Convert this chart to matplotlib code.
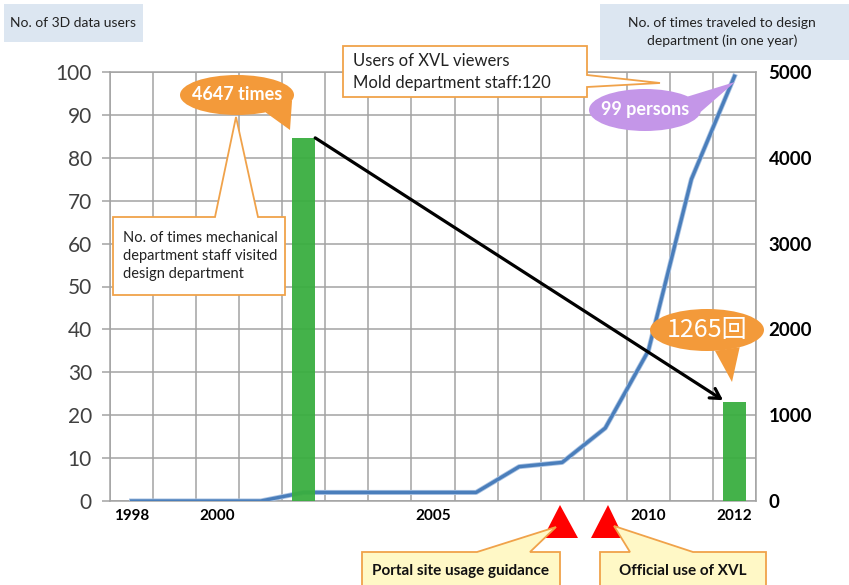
import matplotlib
matplotlib.use("Agg")
import matplotlib.pyplot as plt
from matplotlib.patches import Ellipse, Polygon, Rectangle
import matplotlib.patheffects as pe
import numpy as np

# ---- data ----
years = list(range(1998, 2013))
users_3d = [0, 0, 0, 0, 2, 2, 2, 2, 2, 8, 9, 17, 35, 75, 99]
visit_years = [2002, 2012]
visit_counts = [4647, 1265]
year_ticks = [1998, 2000, 2005, 2010, 2012]
left_ticks = list(range(0, 101, 10))
right_ticks = list(range(0, 5001, 1000))

W, H = 849, 585
plt.rcParams['font.family'] = ['Lato', 'Noto Sans CJK JP', 'DejaVu Sans']
fig = plt.figure(figsize=(W / 100, H / 100), dpi=100)


def fx(px):
    return px / W


def fy(py):
    return 1 - py / H


L, R, T, B = 110, 756, 72, 501
ax = fig.add_axes([fx(L), fy(B), fx(R) - fx(L), fy(T) - fy(B)])
pos = np.array(years) - years[0]
ax.set_xlim(-0.5, len(years) - 0.5)
ax.set_ylim(0, 100)

grid_c = '#a3a3a3'
ax.set_xticks(np.arange(-0.5, len(years), 1), minor=True)
ax.set_yticks(left_ticks)
ax.set_xticks([y - years[0] for y in year_ticks])
ax.set_xticklabels([str(y) for y in year_ticks], fontweight='bold', fontsize=11)
ax.grid(True, which='minor', axis='x', color=grid_c, lw=1.1)
ax.grid(True, which='major', axis='y', color=grid_c, lw=1.1)
ax.tick_params(axis='x', which='both', length=0, pad=6)
ax.tick_params(axis='y', length=6, color=grid_c, width=1.1, labelsize=15,
               labelcolor='#404040', pad=7)
for s in ax.spines.values():
    s.set_color(grid_c)
    s.set_linewidth(1.1)
ax.set_axisbelow(True)

# 3D data users line
ax.plot(pos, users_3d, color='#4a7ebb', lw=2.4, solid_joinstyle='round',
        path_effects=[pe.Stroke(linewidth=3.6, foreground='#a9c2e2'), pe.Normal()],
        zorder=3)

# right-hand axis labels
ax2 = ax.twinx()
ax2.set_ylim(0, 5000)
ax2.set_yticks(right_ticks)
ax2.tick_params(axis='y', length=0, labelsize=13.5, pad=9)
for lab in ax2.get_yticklabels():
    lab.set_fontweight('bold')
for s in ax2.spines.values():
    s.set_visible(False)

# visits bars
ax3 = ax.twinx()
ax3.set_ylim(0, 5490)
ax3.axis('off')
bar_pos = [y - years[0] for y in visit_years]
ax3.bar(bar_pos, visit_counts, width=0.53, color='#3aae40', alpha=0.95, zorder=4)
bw = 0.53 / 2
ax3.annotate('', xy=(bar_pos[1] - bw, visit_counts[1] + 25),
             xytext=(bar_pos[0] + bw, visit_counts[0]),
             arrowprops=dict(arrowstyle='->,head_length=0.7,head_width=0.4',
                             lw=2.3, color='black', shrinkA=0, shrinkB=0),
             zorder=6)

# ---- callouts and labels (pixel coordinates) ----
ov = fig.add_axes([0, 0, 1, 1], zorder=10)
ov.set_xlim(0, W)
ov.set_ylim(H, 0)
ov.axis('off')

orange_edge = '#f0a24a'
bubble_orange = '#f39a3a'
bubble_purple = '#c496e8'

# header boxes
ov.add_patch(Rectangle((4, 4), 139, 38, facecolor='#dce6f1', edgecolor='none'))
ov.text(73, 23, 'No. of 3D data users', ha='center', va='center', fontsize=10,
        color='#222222')
ov.add_patch(Rectangle((600, 4), 249, 56, facecolor='#dce6f1', edgecolor='none'))
ov.text(722, 32, 'No. of times traveled to design\ndepartment (in one year)',
        ha='center', va='center', fontsize=10, color='#222222', linespacing=1.45)

# XVL viewers box with pointer
ov.add_patch(Polygon([(343, 46), (587, 46), (587, 75), (660, 83), (587, 87),
                      (587, 97), (343, 97)], closed=True, facecolor='white',
                     edgecolor=orange_edge, lw=1.3))
ov.text(353, 61, 'Users of XVL viewers', ha='left', va='center', fontsize=12,
        color='#222222')
ov.text(353, 83, 'Mold department staff:120', ha='left', va='center', fontsize=12,
        color='#222222')


def bubble(cx, cy, a, b, t1, t2, tip, color):
    p1 = (cx + a * np.cos(np.radians(t1)), cy + b * np.sin(np.radians(t1)))
    p2 = (cx + a * np.cos(np.radians(t2)), cy + b * np.sin(np.radians(t2)))
    ov.add_patch(Polygon([p1, tip, p2], closed=True, facecolor=color,
                         edgecolor='none'))
    ov.add_patch(Ellipse((cx, cy), 2 * a, 2 * b, facecolor=color, edgecolor='none'))


# 99 persons
bubble(645, 110, 56, 21, -40, 5, (735, 82), bubble_purple)
ov.text(645, 110, '99 persons', ha='center', va='center', fontsize=13,
        fontweight='bold', color='white')

# 4647 times
bubble(237, 95, 57, 20, 15, 60, (290, 130), bubble_orange)
ov.text(237, 95, '4647 times', ha='center', va='center', fontsize=13,
        fontweight='bold', color='white')

# 1265 bubble
bubble(707, 330, 57, 21, 55, 82, (732, 382), bubble_orange)
ov.text(707, 330, '1265回', ha='center', va='center', fontsize=18,
        color='white', family=['Noto Sans CJK JP', 'DejaVu Sans'])

# mechanical staff box with pointer
ov.add_patch(Polygon([(113, 217), (215, 217), (236, 117), (258, 217), (285, 217),
                      (285, 295), (113, 295)], closed=True, facecolor='white',
                     edgecolor=orange_edge, lw=1.3))
ov.text(123, 256, 'No. of times mechanical\ndepartment staff visited\ndesign department',
        ha='left', va='center', fontsize=10.5, color='#222222', linespacing=1.4)

# milestone markers
ov.add_patch(Polygon([(560, 505), (578, 538), (543, 538)], closed=True,
                     facecolor='#ff0000', edgecolor='none'))
ov.add_patch(Polygon([(608, 505), (624, 538), (591, 538)], closed=True,
                     facecolor='#ff0000', edgecolor='none'))

yellow = '#fff8c6'
ov.add_patch(Polygon([(362, 552), (477, 552), (556, 527), (530, 552), (560, 552),
                      (560, 590), (362, 590)], closed=True, facecolor=yellow,
                     edgecolor=orange_edge, lw=1.3))
ov.text(461, 571, 'Portal site usage guidance', ha='center', va='center',
        fontsize=11, fontweight='bold', color='#111111')
ov.add_patch(Polygon([(600, 552), (630, 552), (614, 526), (693, 552), (766, 552),
                      (766, 590), (600, 590)], closed=True, facecolor=yellow,
                     edgecolor=orange_edge, lw=1.3))
ov.text(683, 571, 'Official use of XVL', ha='center', va='center',
        fontsize=11, fontweight='bold', color='#111111')

fig.savefig('out.png', dpi=100)
